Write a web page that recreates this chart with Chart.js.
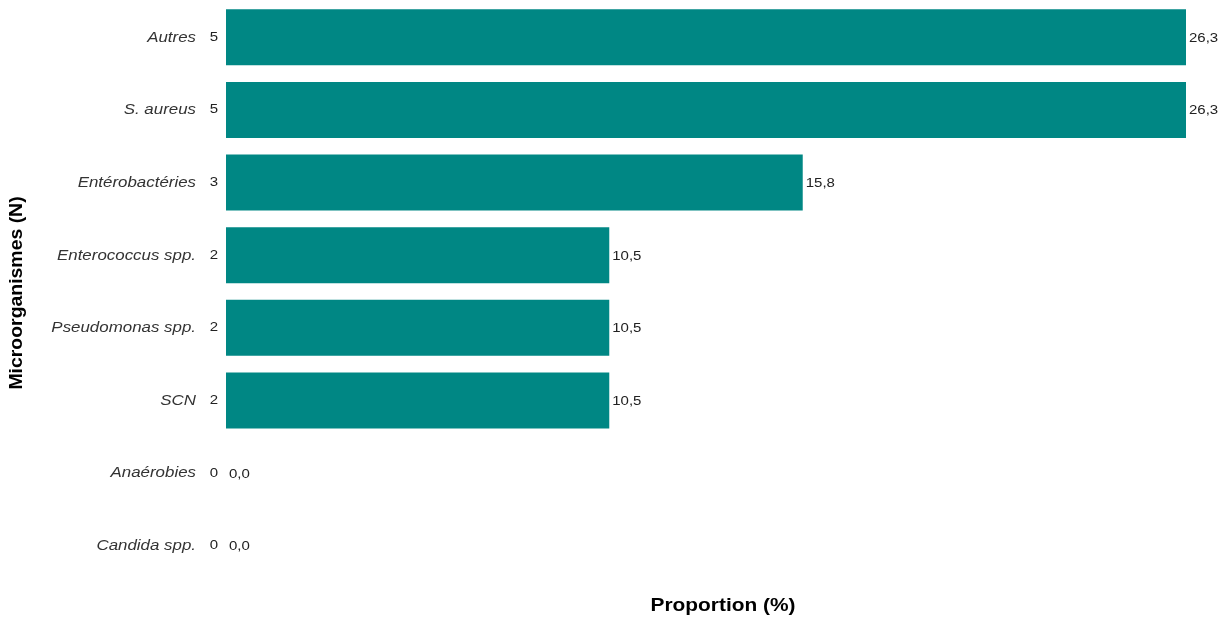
<!DOCTYPE html>
<html>
<head>
<meta charset="utf-8">
<script src="https://cdn.jsdelivr.net/npm/chart.js@4"></script>
<style>
  body { margin: 0; background: #fff; }
  #wrap { width: 1226px; height: 620px; }
</style>
</head>
<body>
<div id="wrap"><canvas id="microChart" width="1226" height="620"></canvas></div>
<script>
var categories = ['Autres', 'S. aureus', 'Entérobactéries', 'Enterococcus spp.', 'Pseudomonas spp.', 'SCN', 'Anaérobies', 'Candida spp.'];
var effectifs = [5, 5, 3, 2, 2, 2, 0, 0];
var proportions = [26.3, 26.3, 15.8, 10.5, 10.5, 10.5, 0.0, 0.0];
var titreX = 'Proportion (%)';
var titreY = 'Microorganismes (N)';

// text in the reference is a bit stretched horizontally, so draw with a x-scale
function texte(ctx, str, x, y, align, sx) {
    ctx.save();
    ctx.translate(x, y);
    ctx.scale(sx, 1);
    ctx.textAlign = align;
    ctx.fillText(str, 0, 0);
    ctx.restore();
}

// labels, counts, values and axis titles drawn by hand (mixed italic / normal)
var textesPlugin = {
    id: 'textes',
    afterDatasetsDraw: function(chart) {
        var ctx = chart.ctx;
        var xs = chart.scales.x;
        var ys = chart.scales.y;
        var area = chart.chartArea;
        ctx.save();
        ctx.textBaseline = 'middle';
        categories.forEach(function(cat, i) {
            var y = ys.getPixelForValue(i);
            ctx.fillStyle = '#333';
            ctx.font = 'italic 15.5px "Liberation Sans", Arial, sans-serif';
            texte(ctx, cat, area.left - 30, y, 'right', 1.09);
            ctx.font = '12.5px "Liberation Sans", Arial, sans-serif';
            ctx.fillStyle = '#222';
            texte(ctx, String(effectifs[i]), area.left - 8, y, 'right', 1.2);
            var xv = xs.getPixelForValue(proportions[i]);
            texte(ctx, proportions[i].toFixed(1).replace('.', ','), xv + 3, y + 1, 'left', 1.2);
        });
        ctx.fillStyle = '#000';
        ctx.font = 'bold 18px "Liberation Sans", Arial, sans-serif';
        texte(ctx, titreX, 723, 606, 'center', 1.16);
        ctx.translate(17, 293);
        ctx.rotate(-Math.PI / 2);
        ctx.font = 'bold 17.5px "Liberation Sans", Arial, sans-serif';
        texte(ctx, titreY, 0, 0, 'center', 1.11);
        ctx.restore();
    }
};

var ctx = document.getElementById('microChart').getContext('2d');
var chart = new Chart(ctx, {
    type: 'bar',
    data: {
        labels: categories,
        datasets: [{
            label: titreX,
            data: proportions,
            backgroundColor: '#008784',
            borderWidth: 0,
            barPercentage: 0.77,
            categoryPercentage: 1
        }]
    },
    options: {
        indexAxis: 'y',
        responsive: false,
        animation: false,
        layout: { padding: { left: 226, right: 40, top: 1, bottom: 38 } },
        plugins: { legend: { display: false }, tooltip: { enabled: false } },
        scales: {
            x: { display: false, min: 0, max: 26.3 },
            y: { display: false }
        }
    },
    plugins: [textesPlugin]
});
</script>
</body>
</html>
